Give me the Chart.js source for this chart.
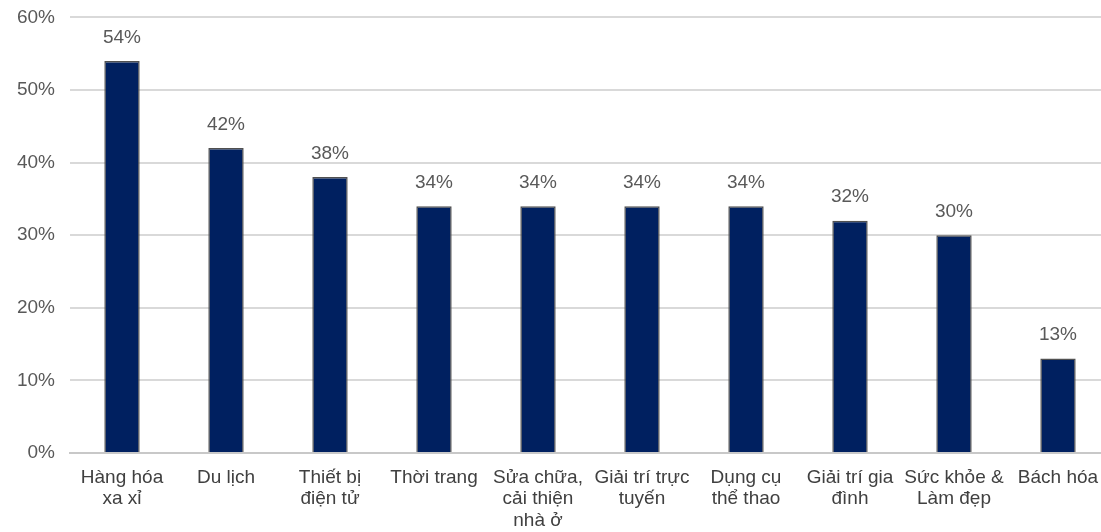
<!DOCTYPE html>
<html>
<head>
<meta charset="utf-8">
<script src="https://cdn.jsdelivr.net/npm/chart.js@4"></script>
<style>
  html, body { margin: 0; padding: 0; background: #fff; overflow: hidden; }
  /* chart is a bit wider than the window: the gridlines run off the right edge */
  #wrap { width: 1115px; height: 541px; margin-top: -9px; }
</style>
</head>
<body>
<div id="wrap"><canvas id="shareChart"></canvas></div>
<script>
// categories + values
const categories = [
    ['Hàng hóa', 'xa xỉ'],
    'Du lịch',
    ['Thiết bị', 'điện tử'],
    'Thời trang',
    ['Sửa chữa,', 'cải thiện', 'nhà ở'],
    ['Giải trí trực', 'tuyến'],
    ['Dụng cụ', 'thể thao'],
    ['Giải trí gia', 'đình'],
    ['Sức khỏe &', 'Làm đẹp'],
    'Bách hóa'
];
const shares = [54, 42, 38, 34, 34, 34, 34, 32, 30, 13];
const yTicks = [0, 10, 20, 30, 40, 50, 60];

const FONT = '"Liberation Sans", Arial, sans-serif';

// value labels on top of each bar
const barLabels = {
    id: 'barLabels',
    afterDatasetsDraw(chart) {
        const ctx = chart.ctx;
        const meta = chart.getDatasetMeta(0);
        ctx.save();
        ctx.font = '19px ' + FONT;
        ctx.fillStyle = '#595959';
        ctx.textAlign = 'center';
        ctx.textBaseline = 'bottom';
        meta.data.forEach((bar, i) => {
            ctx.fillText(shares[i] + '%', bar.x, bar.y - 14);
        });
        ctx.restore();
    }
};

new Chart(document.getElementById('shareChart').getContext('2d'), {
    type: 'bar',
    data: {
        labels: categories,
        datasets: [{
            data: shares,
            backgroundColor: '#002060',
            borderColor: '#505050',
            borderWidth: 1.5,
            barPercentage: 0.34,
            categoryPercentage: 1
        }]
    },
    options: {
        responsive: true,
        maintainAspectRatio: false,
        animation: false,
        layout: { padding: { top: 0, right: 5, bottom: 0, left: 0 } },
        plugins: { legend: { display: false }, tooltip: { enabled: false } },
        scales: {
            y: {
                min: 0,
                max: 60,
                afterFit(scale) { scale.width = 70; },
                afterBuildTicks(scale) { scale.ticks = yTicks.map(v => ({ value: v })); },
                ticks: {
                    padding: 15,
                    color: '#595959',
                    font: { family: FONT, size: 19 },
                    callback: v => v + '%'
                },
                grid: { color: '#d9d9d9', lineWidth: 2, drawTicks: false },
                border: { display: false }
            },
            x: {
                afterFit(scale) { scale.height = 79; },
                ticks: {
                    padding: 14,
                    maxRotation: 0,
                    autoSkip: false,
                    color: '#404040',
                    font: { family: FONT, size: 19, lineHeight: 1.13 }
                },
                grid: { display: false, drawTicks: false },
                border: { display: true, color: '#c8c8c8', width: 2, dash: [2, 1] }
            }
        }
    },
    plugins: [barLabels]
});
</script>
</body>
</html>
